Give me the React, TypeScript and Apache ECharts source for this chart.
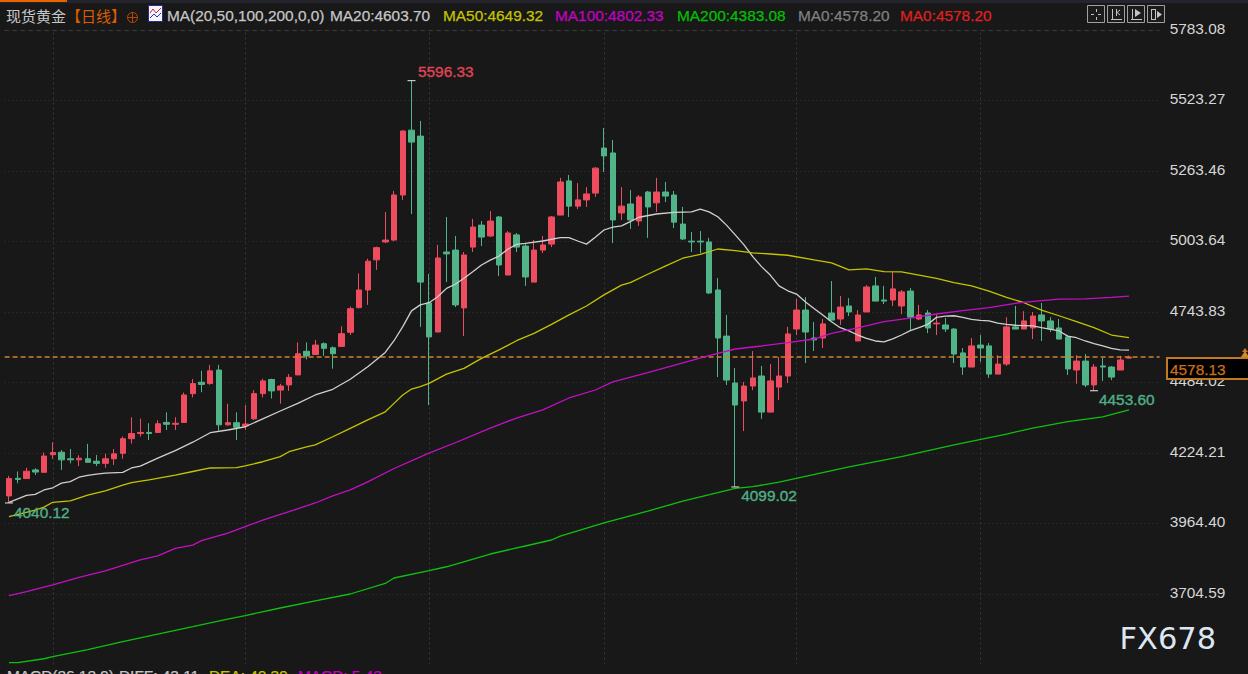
import React, { useEffect, useRef } from "react";
import * as echarts from "echarts";

const ohlc: number[][] = [
[4066,4130,4040.12,4140],[4131,4127,4113,4156],[4130,4157,4130,4170],[4162,4154,4143,4168],[4153,4213,4153,4226],
[4218,4226,4203,4264],[4227,4199,4162,4235],[4203,4199,4186,4239],[4199,4205,4176,4216],[4203,4190,4190,4258],
[4194,4186,4176,4217],[4186,4203,4170,4221],[4203,4221,4180,4239],[4223,4277,4203,4285],[4277,4296,4259,4356],
[4296,4300,4285,4351],[4300,4296,4272,4334],[4300,4332,4300,4345],[4337,4330,4309,4374],[4330,4334,4309,4356],
[4337,4438,4337,4447],[4443,4480,4429,4497],[4485,4477,4448,4527],[4480,4527,4476,4549],[4530,4328,4307,4549],
[4328,4336,4325,4406],[4336,4319,4272,4374],[4324,4331,4309,4401],[4350,4443,4346,4456],[4443,4490,4429,4498],
[4495,4453,4425,4498],[4456,4471,4406,4479],[4475,4503,4453,4515],[4512,4590,4512,4632],[4599,4582,4569,4632],
[4587,4622,4587,4641],[4627,4610,4582,4632],[4612,4590,4535,4617],[4617,4664,4617,4691],[4669,4756,4659,4764],
[4760,4825,4757,4886],[4825,4931,4770,4940],[4936,4981,4899,4985],[5002,5009,4998,5112],[5009,5175,5005,5190],
[5175,5411,5157,5414],[5414,5370,5105,5596.33],[5392,4854,4689,5448],[4777,4652,4401,4884],[4670,4943,4670,4991],
[4965,4958,4854,5094],[4972,4770,4762,5024],[4759,4954,4655,4965],[4983,5057,4965,5087],[5064,5020,4987,5079],
[5024,5079,5020,5116],[5094,4917,4876,5098],[4880,5035,4880,5042],[5028,4983,4965,5035],[4987,4873,4840,4998],
[4854,4972,4854,5009],[4972,4991,4961,5024],[4994,5094,4983,5098],[5101,5223,5101,5238],[5227,5134,5094,5249],
[5134,5157,5123,5219],[5157,5179,5131,5204],[5182,5274,5168,5278],[5348,5319,5260,5422],[5330,5083,4998,5378],
[5109,5134,5083,5204],[5142,5083,5050,5193],[5079,5168,5061,5175],[5186,5131,5017,5190],[5146,5186,5112,5238],
[5186,5171,5149,5223],[5175,5075,5053,5190],[5068,5013,5009,5131],[5005,5002,4965,5039],[5005,5002,4961,5042],
[5002,4814,4810,5017],[4825,4648,4504,4869],[4655,4493,4475,4733],[4482,4401,4099.02,4537],[4416,4471,4305,4486],
[4471,4501,4456,4600],[4508,4375,4350,4545],[4375,4490,4375,4552],[4467,4508,4420,4578],[4508,4663,4482,4689],
[4681,4751,4659,4792],[4751,4670,4556,4799],[4648,4641,4600,4707],[4648,4700,4611,4718],[4740,4714,4714,4858],
[4718,4762,4696,4803],[4766,4744,4729,4795],[4637,4733,4637,4751],[4744,4836,4744,4843],[4840,4784,4784,4873],
[4788,4784,4773,4840],[4788,4829,4766,4891],[4766,4818,4736,4825],[4821,4725,4678,4832],[4718,4733,4714,4770],
[4740,4685,4666,4751],[4700,4703,4659,4736],[4696,4681,4670,4722],[4681,4589,4556,4685],[4593,4541,4512,4611],
[4541,4619,4541,4648],[4622,4611,4560,4659],[4619,4515,4501,4630],[4515,4552,4515,4585],[4552,4689,4545,4725],
[4689,4681,4681,4766],[4681,4711,4681,4747],[4685,4729,4644,4744],[4733,4711,4637,4777],[4711,4681,4670,4725],
[4685,4644,4644,4718],[4652,4534,4512,4659],[4530,4563,4479,4585],[4563,4475,4467,4589],[4475,4541,4453.6,4552],
[4545,4541,4490,4574],[4541,4504,4493,4545],[4530,4567,4530,4582],[4574,4578.13,4572,4583],
];

// moving averages: [candle index, value] pairs
const ma20: number[][] = [
[0,4042.5],[1,4055],[2,4068],[3,4072],[4,4088],[5,4096],[6,4113],[7,4118.5],[8,4135],[9,4142],[10,4146],[11,4150],[13,4153],[14,4169],[15,4176],[17,4205],[19,4233],[21,4264],[23,4299],[25,4309],[27,4321],[29,4350],[31,4379],[33,4407],[35,4438],[37,4459],[39,4496],[41,4542],[43,4595],[44,4638],[45,4690],[46,4748],[47,4770],[48,4778],[49,4800],[50,4831],[51,4846],[52,4868],[53,4892],[54,4917],[55,4935],[56,4950],[57,4975],[58,4993],[59,4997],[61,5005.5],[63,5018],[64,5018],[65,5005.5],[66,4994],[67,5019],[68,5046],[69,5057],[70,5061],[71,5077],[72,5093],[74,5105],[76,5111],[78,5113],[79,5123],[80,5113],[81,5095],[82,5064],[83,5028],[84,4991],[85,4948],[86,4911],[87,4880],[88,4840],[89,4822],[90,4810],[91,4782],[92,4757],[93,4733],[94,4708],[95,4686],[96,4674],[97,4659],[98,4647],[99,4637],[100,4634],[101,4645],[102,4659],[103,4675],[104,4686],[105,4698.5],[106,4724],[107,4729],[108,4730],[109,4724],[110,4717],[111,4713],[112,4711],[113,4703],[114,4698],[115,4695],[117,4693],[118,4686],[120,4674],[121,4655],[122,4649],[123,4637],[124,4627],[125,4619],[126,4610],[127,4604],[128,4603.7],
];
const ma50: number[][] = [
[0,3989.5],[3,4014],[4,4025],[5,4042.6],[7,4048],[9,4069],[11,4085],[13,4106],[14,4115],[16,4125],[19,4143],[21,4156],[23,4169],[26,4170],[27,4177],[29,4192],[31,4211],[32,4229],[34,4247],[35,4254],[37,4284],[39,4315],[41,4346],[43,4376],[44,4407],[45,4438],[46,4460],[47,4469],[48,4481],[50,4515],[52,4536],[54,4573],[56,4604],[58,4638],[60,4665],[62,4698],[64,4733],[66,4766],[68,4807],[70,4843],[71,4852],[73,4883],[75,4913],[77,4942],[79,4956],[81,4976],[83,4970],[85,4962],[87,4957.5],[89,4953],[92,4936],[94,4925],[96,4899],[98,4903],[100,4892.4],[102,4892],[104,4880],[106,4868],[108,4852],[110,4840],[112,4821],[114,4798],[116,4778],[118,4751],[120,4730],[122,4708],[124,4686],[126,4659],[128,4649.32],
];
const ma100: number[][] = [
[0,3698.4],[2,3713],[5,3738],[8,3766],[11,3789.5],[15,3830],[17,3845],[19,3873],[21,3885],[22,3901],[25,3929],[27,3953],[29,3977],[32,4008],[35,4040],[37,4066],[39,4088],[41,4118],[44,4167],[48,4224],[51,4262],[55,4316],[58,4353],[61,4383],[64,4427],[67,4456.4],[69,4486],[73,4520],[77,4556],[80,4583],[83,4607.5],[86,4618.6],[89,4631],[92,4644.3],[94,4665],[97,4685],[100,4708],[103,4721],[106,4736.5],[109,4748.6],[112,4760],[115,4776],[118,4785.5],[120,4791],[123,4792],[126,4798],[128,4802.33],
];
const ma200: number[][] = [
[0,3451.5],[1,3451.5],[4,3466],[5,3474],[9,3499.4],[13,3529],[17,3557],[21,3584],[25,3612],[27,3625],[31,3653],[35,3679],[39,3704.6],[43,3743.4],[44,3763.6],[48,3790.5],[50,3805],[55,3852],[59,3881.5],[62,3903.6],[63,3918],[68,3967],[73,4010],[77,4047],[83,4094],[85,4100],[88,4117],[96,4173],[102,4211],[108,4254],[114,4294],[117,4316],[121,4340],[125,4357],[128,4383.08],
];

const yTicks = [5783.08, 5523.27, 5263.46, 5003.64, 4743.83, 4484.02, 4224.21, 3964.4, 3704.59];
const categories = Array.from({ length: 132 }, (_, i) => String(i + 1));
const monthLines = [5, 27, 48, 68, 90, 111];
const lastPrice = 4578.13;
const extremes: { i: number; v: number; up: boolean; dx: number; dy: number }[] = [
  { i: 46, v: 5596.33, up: true, dx: 10.5, dy: -9 },
  { i: 0, v: 4040.12, up: false, dx: 9, dy: 10 },
  { i: 83, v: 4099.02, up: false, dx: 10, dy: 9 },
  { i: 124, v: 4453.6, up: false, dx: 9, dy: 9.5 },
];
const headerItems: [string, number, string][] = [
  ["MA(20,50,100,200,0,0)", 167, "#c6c6c6"],
  ["MA20:4603.70", 330, "#c6c6c6"],
  ["MA50:4649.32", 443, "#c4c400"],
  ["MA100:4802.33", 555, "#c400c4"],
  ["MA200:4383.08", 677, "#00c000"],
  ["MA0:4578.20", 798, "#808080"],
  ["MA0:4578.20", 900, "#e02020"],
];
const macdItems: [string, number, string][] = [
  ["MACD(26,12,9)", 7, "#c6c6c6"],
  ["DIFF: 43.11", 119, "#c6c6c6"],
  ["DEA: 40.39", 209, "#c4c400"],
  ["MACD: 5.43", 298, "#c400c4"],
];

const FONT = "'Liberation Sans', Arial, sans-serif";
const RED = "#ee4c5f";
const GREEN = "#50b488";
const BG = "#181818";

function txt(text: string, x: number, y: number, fill: string, extra: any = {}) {
  return {
    type: "text", x, y, z: 20, silent: true,
    style: { text, fill, stroke: fill, lineWidth: 0.25, fontFamily: FONT, fontSize: 15.4, verticalAlign: "middle", align: "left", ...extra },
  };
}
function ln(x1: number, y1: number, x2: number, y2: number, stroke = "#c4c4c4") {
  return { type: "line", z: 21, silent: true, shape: { x1, y1, x2, y2 }, style: { stroke, lineWidth: 1 } };
}
function btn(x: number) {
  return { type: "rect", z: 20, silent: true, shape: { x: x + 0.5, y: 5.5, width: 17, height: 17 }, style: { fill: "#1c1c1c", stroke: "#a0a0a0", lineWidth: 1 } };
}
function maSeries(name: string, data: number[][], color: string) {
  return {
    name, type: "line", data, symbol: "none", silent: true, z: 5,
    lineStyle: { color, width: 1.3 }, itemStyle: { color },
  };
}

export default function App() {
  const ref = useRef<HTMLDivElement>(null);
  useEffect(() => {
    document.body.style.margin = "0";
    document.body.style.background = BG;
    const chart = echarts.init(ref.current!, null, { renderer: "svg" });
    const vLine = { type: [2, 3], color: "#363636", width: 1 };
    chart.setOption({
      animation: false,
      backgroundColor: BG,
      grid: { left: 4.625, top: 30, width: 1155, height: 634.5, containLabel: false },
      xAxis: {
        type: "category", data: categories, boundaryGap: true,
        axisLine: { show: false }, axisTick: { show: false }, axisLabel: { show: false }, splitLine: { show: false },
      },
      yAxis: {
        type: "value", position: "right", min: 3444.79, max: 5783.08, scale: true,
        axisLine: { show: false },
        axisTick: { show: false, customValues: yTicks },
        axisLabel: {
          customValues: yTicks, color: "#d6d6d6", fontFamily: FONT, fontSize: 15.4, margin: 10,
          verticalAlign: "bottom", lineHeight: 4,
          formatter: (v: number) => v.toFixed(2),
        },
        splitLine: { show: true, lineStyle: { type: [1, 3], color: "#363636", width: 1 } },
      },
      series: [
        {
          name: "现货黄金", type: "candlestick", data: ohlc, barWidth: 6, z: 3, silent: true,
          itemStyle: { color: RED, color0: GREEN, borderColor: RED, borderColor0: GREEN, borderWidth: 1 },
          markLine: {
            silent: true, symbol: "none", animation: false, label: { show: false }, z: 1,
            lineStyle: { type: [2, 3], color: "#363636", width: 1 },
            data: [
              ...monthLines.map((i) => ({ xAxis: i, lineStyle: vLine })),
              { yAxis: 5783.08, lineStyle: { type: [4, 4], color: "#3a3a3a", width: 1 } },
            ],
          },
          markPoint: {
            silent: true, animation: false, z: 6,
            data: extremes.map((e) => ({
              coord: [e.i, e.v], symbol: "rect", symbolSize: [8, 1],
              itemStyle: { color: "#e8e8e8" },
              label: {
                show: true, formatter: e.v.toFixed(2), position: [e.dx, e.dy],
                color: e.up ? "#dd4455" : "#4fae86", fontFamily: FONT, fontSize: 15.4,
                textBorderColor: e.up ? "#dd4455" : "#4fae86", textBorderWidth: 0.4,
                align: "left", verticalAlign: "middle",
              },
            })),
          },
        },
        maSeries("MA20", ma20, "#d0d0d0"),
        maSeries("MA50", ma50, "#c4c400"),
        maSeries("MA100", ma100, "#c410c4"),
        maSeries("MA200", ma200, "#10c010"),
        {
          name: "现价", type: "line", data: [], symbol: "none", silent: true, z: 2,
          lineStyle: { color: "#d0802c" }, itemStyle: { color: "#d0802c" },
          markLine: {
            silent: true, symbol: "none", animation: false, label: { show: false }, z: 4,
            lineStyle: { type: [5, 3], color: "#d0802c", width: 1.5, opacity: 1 },
            data: [{ yAxis: lastPrice }],
          },
        },
      ],
      graphic: { elements: [
        { type: "rect", z: 20, silent: true, shape: { x: 0, y: 0, width: 1248, height: 3 }, style: { fill: "#24252c" } },
        { type: "rect", z: 21, silent: true, shape: { x: 0, y: 0, width: 67, height: 2 }, style: { fill: "#e86400" } },
        txt("现货黄金", 6, 15.5, "#c8c8c8", { fontFamily: "'Noto Sans CJK SC'", fontSize: 15, lineWidth: 0 }),
        txt("【日线】", 66, 15.5, "#d85e00", { fontFamily: "'Noto Sans CJK SC'", fontSize: 15, lineWidth: 0 }),
        { type: "circle", z: 20, silent: true, shape: { cx: 132.5, cy: 17.5, r: 5 }, style: { fill: "none", stroke: "#b24a00", lineWidth: 1 } },
        ln(127, 17.5, 138, 17.5, "#b24a00"), ln(132.5, 12, 132.5, 23, "#b24a00"),
        { type: "rect", z: 20, silent: true, shape: { x: 148.5, y: 5.5, width: 14, height: 16 }, style: { fill: "#f4f4ff", stroke: "#2a2a90", lineWidth: 1 } },
        { type: "polyline", z: 21, silent: true, shape: { points: [[150, 13], [153, 9], [156, 13], [161, 8]] }, style: { fill: "none", stroke: "#e02020", lineWidth: 1 } },
        { type: "polyline", z: 21, silent: true, shape: { points: [[150, 18], [154, 14], [157, 17], [161, 13]] }, style: { fill: "none", stroke: "#2030c0", lineWidth: 1 } },
        ...headerItems.map(([t, x, c]) => txt(t, x, 15.5, c)),
        ...macdItems.map(([t, x, c]) => txt(t, x, 668, c, { verticalAlign: "top" })),
        btn(1087), btn(1107), btn(1127), btn(1147),
        ln(1091, 14.5, 1094, 14.5), ln(1098, 14.5, 1101, 14.5), ln(1096.5, 9, 1096.5, 12), ln(1096.5, 17, 1096.5, 20),
        ln(1112.5, 9, 1112.5, 19), ln(1111, 19.5, 1122, 19.5), ln(1116.5, 9, 1116.5, 16), ln(1120, 10, 1117, 12.5), ln(1120, 15, 1117, 12.5),
        ln(1132.5, 9, 1132.5, 19), ln(1131, 19.5, 1142, 19.5),
        { type: "polygon", z: 21, silent: true, shape: { points: [[1135, 9], [1141, 13], [1135, 17]] }, style: { fill: "#c4c4c4" } },
        ln(1151.5, 9, 1151.5, 20), ln(1155.5, 9, 1155.5, 20), ln(1151, 9.5, 1156, 9.5), ln(1151, 19.5, 1156, 19.5),
        { type: "polygon", z: 21, silent: true, shape: { points: [[1157, 11], [1162, 14.5], [1157, 18]] }, style: { fill: "#c4c4c4" } },
        { type: "rect", z: 30, silent: true, shape: { x: 1167, y: 358, width: 90, height: 21 }, style: { fill: "#000000", stroke: "#c07a22", lineWidth: 2 } },
        { ...txt("4578.13", 1170, 369, "#c8701a"), z: 31 },
        { type: "polygon", z: 31, silent: true, shape: { points: [[1245, 348], [1248, 352], [1242, 352]] }, style: { fill: "#c87818" } },
        { type: "polygon", z: 31, silent: true, shape: { points: [[1245, 351], [1249, 357], [1241, 357]] }, style: { fill: "#d88820" } },
        txt("FX678", 1119.5, 638.5, "#dde6f2", { fontFamily: "'DejaVu Sans'", fontSize: 30.5, lineWidth: 0 }),
      ] },
    });
    return () => chart.dispose();
  }, []);
  return <div ref={ref} style={{ width: 1248, height: 674, overflow: "hidden" }} />;
}
